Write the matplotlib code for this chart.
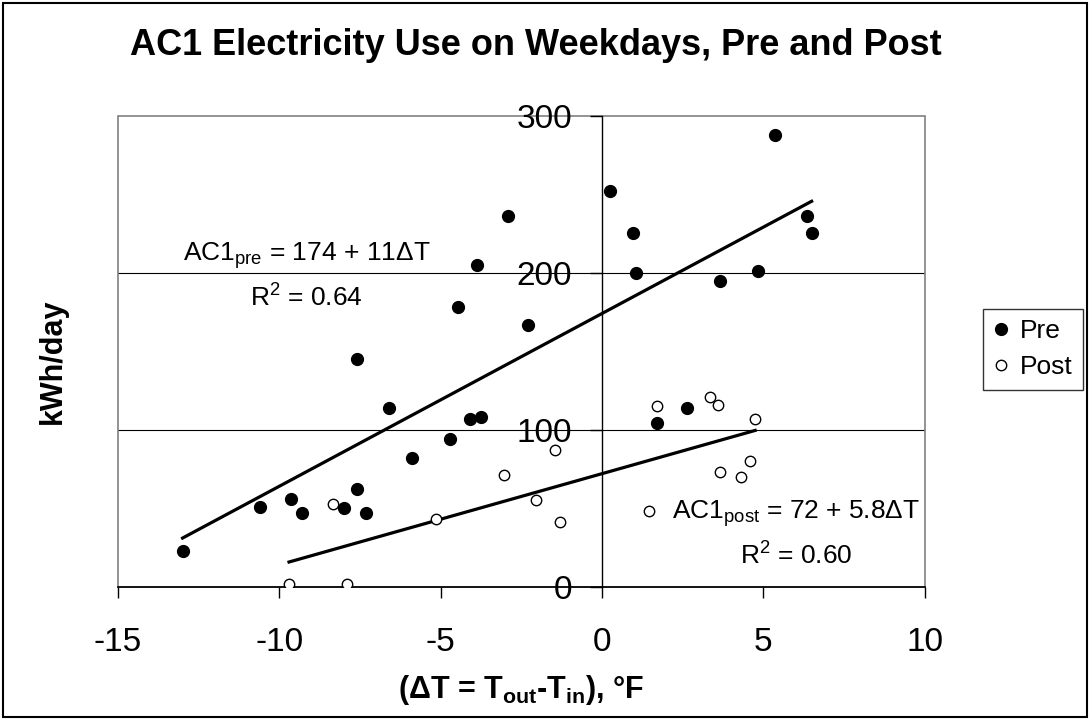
import numpy as np
import matplotlib
matplotlib.use('Agg')
import matplotlib.pyplot as plt
from matplotlib.patches import Rectangle

plt.rcParams['font.family'] = ['Liberation Sans', 'DejaVu Sans']
plt.rcParams['mathtext.default'] = 'regular'
plt.rcParams['axes.unicode_minus'] = False

# data (delta T in F, kWh/day)
pre_x = [-13.0, -10.6, -9.65, -9.3, -8.0, -7.6, -7.6, -7.3, -6.6, -5.9, -4.7,
         -4.45, -4.1, -3.87, -3.75, -2.9, -2.3, 0.25, 0.95, 1.05, 1.7, 2.65,
         3.65, 4.85, 5.35, 6.35, 6.5]
pre_y = [23, 51, 56, 47, 50, 62, 145, 47, 114, 82, 94,
         178, 107, 205, 108, 236, 167, 252, 225, 200, 104, 114,
         195, 201, 288, 236, 225]

post_x = [-9.7, -7.9, -8.35, -5.15, -3.05, -2.05, -1.45, -1.3, 1.45, 1.7,
          3.35, 3.6, 3.65, 4.3, 4.6, 4.75]
post_y = [2, 2, 53, 43, 71, 55, 87, 41, 48, 115,
          121, 116, 73, 70, 80, 107]

# trendline coefficients (intercept, slope) as printed on the chart
pre_fit = (174, 11)
post_fit = (72, 5.8)

x_ticks = [-15, -10, -5, 0, 5, 10]
y_ticks = [0, 100, 200, 300]
grid_y = [100, 200]

fig = plt.figure(figsize=(10.9, 7.2), dpi=100)
ax = fig.add_axes([0.1083, 0.1851, 0.7399, 0.6542])

ax.set_xlim(-15, 10)
ax.set_ylim(0, 300)

for g in grid_y:
    ax.axhline(g, color='black', lw=0.8, zorder=1)

# plot area box
ax.add_patch(Rectangle((0, 0), 1, 1, transform=ax.transAxes, fill=False,
                       ec='#808080', lw=1.2, zorder=1, clip_on=False))
ax.spines['top'].set_visible(False)
ax.spines['right'].set_visible(False)
ax.spines['left'].set_position(('data', 0))
ax.spines['left'].set_color('black')
ax.spines['left'].set_linewidth(1.0)
ax.spines['bottom'].set_color('black')
ax.spines['bottom'].set_linewidth(1.2)

# trend lines
xs = np.array([min(pre_x), max(pre_x)])
ax.plot(xs, pre_fit[0] + pre_fit[1] * xs, color='black', lw=2.3, zorder=3)
xs = np.array([min(post_x), max(post_x)])
ax.plot(xs, post_fit[0] + post_fit[1] * xs, color='black', lw=2.3, zorder=3)

ax.plot(pre_x, pre_y, 'o', color='black', ms=8.5, ls='none', zorder=4, label='Pre')
ax.plot(post_x, post_y, 'o', mfc='white', mec='black', mew=1.0, ms=7.5,
        ls='none', zorder=4, label='Post')

ax.set_xticks(x_ticks)
ax.set_yticks(y_ticks)
ax.tick_params(axis='x', direction='out', length=8, width=1, pad=21, labelsize=24)
ax.tick_params(axis='y', direction='out', length=8.5, width=1, pad=13, labelsize=24)

ax.text(-9.15, 207.8, 'AC1$_{pre}$ = 174 + 11ΔT', fontsize=19, ha='center', va='baseline')
ax.text(-9.15, 178.6, 'R$^{2}$ = 0.64', fontsize=19, ha='center', va='baseline')
ax.text(6.02, 43.1, 'AC1$_{post}$ = 72 + 5.8ΔT', fontsize=19, ha='center', va='baseline')
ax.text(6.02, 13.9, 'R$^{2}$ = 0.60', fontsize=19, ha='center', va='baseline')

ax.set_xlabel('(ΔT = T$_{out}$-T$_{in}$), °F', fontsize=22, fontweight='bold', va='center')
ax.xaxis.set_label_coords(0.5, -0.219)
ax.set_ylabel('kWh/day', fontsize=22, fontweight='bold', va='center')
ax.yaxis.set_label_coords(-0.0806, 0.479)

fig.text(536 / 1090, 1 - 55 / 720, 'AC1 Electricity Use on Weekdays, Pre and Post',
         fontsize=26, fontweight='bold', ha='center', va='baseline')

leg = ax.legend(loc='upper left', bbox_to_anchor=(982.7 / 1090, 1 - 308.7 / 720),
                bbox_transform=fig.transFigure, borderaxespad=0, fontsize=19,
                frameon=True, fancybox=False, handlelength=0.6, handletextpad=0.4,
                borderpad=0.4, labelspacing=0.45)
leg.get_frame().set_edgecolor('black')
leg.get_frame().set_linewidth(1.0)

# chart border
fig.patches.append(Rectangle((0.003, 0.004), 0.994, 0.992, transform=fig.transFigure,
                             fill=False, ec='black', lw=1.5))

fig.savefig('out.png', dpi=100)
